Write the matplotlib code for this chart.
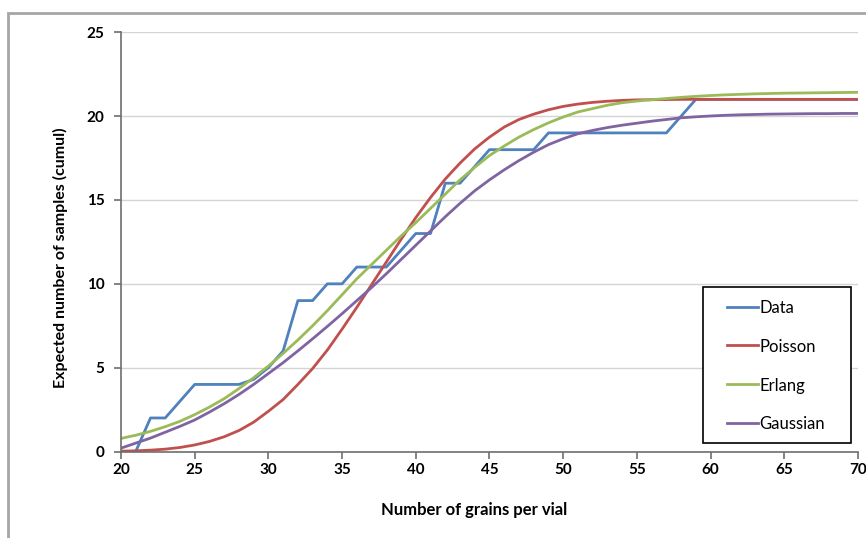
import matplotlib
matplotlib.use("Agg")
import matplotlib.pyplot as plt
from matplotlib.patches import Rectangle
from matplotlib.lines import Line2D

x_vals = list(range(20, 71))

data_counts = [0, 0, 2, 2, 3, 4, 4, 4, 4, 4.3,
               5, 6, 9, 9, 10, 10, 11, 11, 11, 12,
               13, 13, 16, 16, 17, 18, 18, 18, 18, 19,
               19, 19, 19, 19, 19, 19, 19, 19, 20, 21,
               21, 21, 21, 21, 21, 21, 21, 21, 21, 21, 21]

poisson = [0.02, 0.04, 0.08, 0.14, 0.24, 0.39, 0.6, 0.88, 1.25, 1.75,
           2.4, 3.1, 4.0, 4.95, 6.05, 7.3, 8.6, 9.95, 11.3, 12.65,
           13.95, 15.15, 16.25, 17.2, 18.05, 18.75, 19.35, 19.8, 20.12, 20.38,
           20.58, 20.72, 20.82, 20.89, 20.94, 20.97, 20.98, 20.99, 21.0, 21.0,
           21.0, 21.0, 21.0, 21.0, 21.0, 21.0, 21.0, 21.0, 21.0, 21.0, 21.0]

erlang = [0.78, 0.97, 1.2, 1.48, 1.8, 2.2, 2.65, 3.15, 3.75, 4.4,
          5.1, 5.85, 6.65, 7.5, 8.4, 9.35, 10.3, 11.15, 12.0, 12.85,
          13.65, 14.5, 15.35, 16.2, 16.95, 17.65, 18.22, 18.75, 19.2, 19.6,
          19.95, 20.25, 20.45, 20.65, 20.8, 20.9, 20.98, 21.05, 21.12, 21.18,
          21.23, 21.27, 21.3, 21.33, 21.35, 21.37, 21.38, 21.39, 21.4, 21.41, 21.42]

gaussian = [0.2, 0.5, 0.8, 1.15, 1.5, 1.88, 2.35, 2.85, 3.4, 4.0,
            4.65, 5.3, 6.0, 6.72, 7.46, 8.22, 9.0, 9.78, 10.6, 11.45,
            12.3, 13.15, 14.0, 14.8, 15.55, 16.2, 16.8, 17.35, 17.85, 18.3,
            18.65, 18.95, 19.15, 19.32, 19.46, 19.58, 19.7, 19.8, 19.9, 19.96,
            20.01, 20.05, 20.08, 20.1, 20.12, 20.13, 20.14, 20.15, 20.15, 20.16, 20.16]

series_names = ["Data", "Poisson", "Erlang", "Gaussian"]
series_colors = ["#4F81BD", "#C0504D", "#9BBB59", "#8064A2"]
x_ticks = [20, 25, 30, 35, 40, 45, 50, 55, 60, 65, 70]
y_ticks = [0, 5, 10, 15, 20, 25]

plt.rcParams['font.family'] = ['Lato', 'DejaVu Sans']

W, H = 866, 538
fig = plt.figure(figsize=(W / 100, H / 100), dpi=100)
fig.patch.set_facecolor('white')

def fx(px):
    return px / W

def fy(py):
    return 1 - py / H

# outer chart frame (cut off at right and bottom)
fig.patches.append(Rectangle((fx(8), -0.2), 1.2, fy(13) + 0.2,
                             transform=fig.transFigure, fill=False,
                             edgecolor='#a6a6a6', linewidth=2, zorder=0))

ax = fig.add_axes([fx(121), fy(451.5), (858 - 121) / W, (451.5 - 32.3) / H])

for vals, name, col in zip([data_counts, poisson, erlang, gaussian], series_names, series_colors):
    ax.plot(x_vals, vals, color=col, linewidth=2.0, label=name, solid_joinstyle='round')

ax.set_xlim(20, 70)
ax.set_ylim(0, 25)
ax.set_xticks(x_ticks)
ax.set_yticks(y_ticks)
ax.grid(axis='y', color='#d4d4d4', linewidth=1.0)
ax.set_axisbelow(True)
for s in ['top', 'right']:
    ax.spines[s].set_visible(False)
for s in ['left', 'bottom']:
    ax.spines[s].set_color('#6e6e6e')
    ax.spines[s].set_linewidth(1.2)
ax.tick_params(axis='both', direction='out', length=5, width=1.2, color='#6e6e6e',
               labelsize=11)
ax.tick_params(axis='x', pad=3)
ax.tick_params(axis='y', pad=7)
for lab in ax.get_xticklabels() + ax.get_yticklabels():
    lab.set_fontweight('bold')

fig.text(fx(474), fy(510), "Number of grains per vial", ha='center', va='center',
         fontsize=12, fontweight='bold')
fig.text(fx(60), fy(258), "Expected number of samples (cumul)", ha='center', va='center',
         rotation=90, fontsize=11.5, fontweight='bold')

# legend box
fig.add_artist(Rectangle((fx(703.3), fy(442.7)), (850.7 - 703.3) / W, (442.7 - 286.7) / H,
                         transform=fig.transFigure, facecolor='white',
                         edgecolor='black', linewidth=1.2, zorder=5))
for i, (name, col) in enumerate(zip(series_names, series_colors)):
    yy = 306.7 + 38.7 * i
    fig.add_artist(Line2D([fx(726.7), fx(758.3)], [fy(yy), fy(yy)], color=col,
                          linewidth=2.0, transform=fig.transFigure, zorder=6))
    fig.text(fx(759.5), fy(yy), name, ha='left', va='center_baseline', fontsize=12,
             zorder=6)

fig.savefig("out.png", dpi=100, facecolor='white')
